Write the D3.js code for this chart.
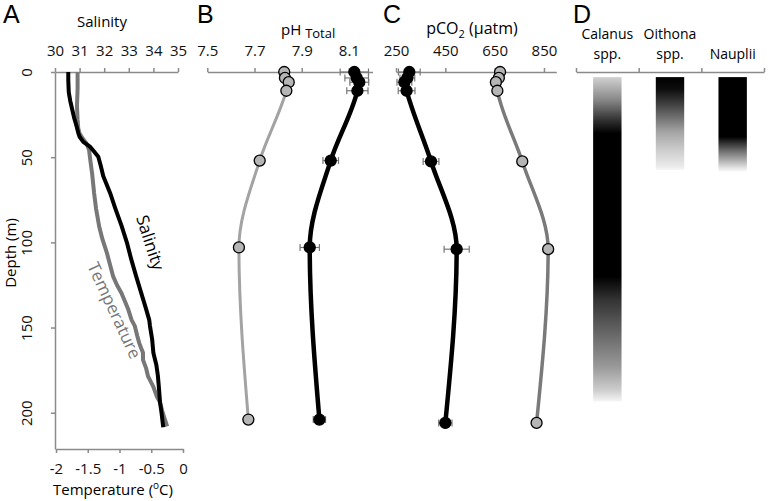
<!DOCTYPE html>
<html><head><meta charset="utf-8">
<script src="https://cdn.jsdelivr.net/npm/d3@7"></script>
<style>
html,body{margin:0;padding:0;background:#fff;}
svg{display:block;font-family:"Open Sans",sans-serif;}
</style></head>
<body><svg id="c" width="768" height="501"></svg>
<script>
// ---------- DATA ----------
// Panel A: CTD profiles
const salinityProfile = [[0,30.54],[5,30.54],[12,30.56],[17,30.62],[22,30.70],[27,30.78],[32,30.88],[36,30.95],[38,31.0],[41,31.15],[43.8,31.42],[46.5,31.58],[49.7,31.76],[55,31.86],[61,31.96],[71,32.24],[80,32.45],[90,32.7],[100,32.92],[110,33.1],[120,33.3],[129.5,33.5],[138,33.68],[145.5,33.83],[149,33.86],[157,33.95],[165,34.0],[172,34.12],[178,34.18],[184.5,34.22],[194,34.27],[200,34.33],[208.5,34.40]];
const temperatureProfile = [[0,-1.66],[10,-1.66],[20,-1.67],[28,-1.66],[33,-1.65],[36,-1.63],[39,-1.58],[42,-1.52],[45.7,-1.48],[51.6,-1.46],[60,-1.43],[71,-1.40],[80,-1.37],[90.7,-1.32],[98,-1.27],[106,-1.20],[113,-1.15],[120,-1.10],[125,-1.04],[129.7,-0.97],[135,-0.91],[139.6,-0.86],[145.5,-0.81],[149,-0.76],[155,-0.72],[159,-0.69],[162,-0.66],[164.8,-0.63],[169,-0.63],[174,-0.58],[178.7,-0.55],[184.5,-0.47],[190.6,-0.41],[194,-0.36],[200,-0.32],[208,-0.25]];
const salinityTicks = [30,31,32,33,34,35];
const temperatureTicks = [-2,-1.5,-1,-0.5,0];
const depthTicks = [0,50,100,150,200];

// Panel B: pH (total scale)
const depthsB = [0,3.5,6,11,52,103,204];
const pHGrey = [7.826,7.829,7.845,7.835,7.722,7.634,7.674];
const pHBlack = [8.123,8.133,8.144,8.136,8.023,7.934,7.975];
const pHBlackErr = [0.06,0.05,0.04,0.045,0.033,0.041,0.026];
const pHTicks = [7.5,7.7,7.9,8.1];

// Panel C: pCO2 (uatm)
const depthsC = [0,3.5,6,11,52.5,104,206];
const pCO2Black = [304,296,284,293,392,496,450];
const pCO2BlackErr = [44,30,30,34,32,51,27];
const pCO2Grey = [672,667,655,661,762,867,820];
const pCO2Ticks = [250,450,650,850];

// Panel D: relative abundance (0 none .. 1 max) by depth
const taxa = ["Calanus spp.","Oithona spp.","Nauplii"];
const calanusAbund = [[3,0.18],[16.5,0.47],[28,0.8],[36,1],[120,1],[133.7,0.8],[153,0.6],[173,0.4],[186.5,0.2],[193.4,0.04]];
const oithonaAbund = [[3,1],[10,0.95],[16.7,0.8],[28,0.53],[35.6,0.35],[45.7,0.2],[55.5,0.08],[57.5,0.03]];
const naupliiAbund = [[3,1],[38,1],[45.7,0.6],[51.6,0.33],[56,0.12],[58.5,0.02]];

// ---------- DRAW ----------
const svg = d3.select("#c");
const AX = "#8a8a8a";
const y = d3.scaleLinear().domain([0,221.3]).range([72,449]);

function styleAxis(g){
  g.select(".domain").attr("stroke",AX).attr("stroke-width",1.5);
  g.selectAll(".tick line").attr("stroke",AX).attr("stroke-width",1.5);
  g.selectAll(".tick text").attr("font-size",15).attr("fill","#111").attr("font-family","Open Sans");
}
function panelLetter(t,x){
  svg.append("text").attr("x",x).attr("y",23).attr("font-family","Liberation Sans, Arial").attr("font-size",25).text(t);
}

// ---- Panel A ----
panelLetter("A",3);
const xSal = d3.scaleLinear().domain([30,35]).range([55,178]);
const xTemp = d3.scaleLinear().domain([-2,0]).range([56,183]);
svg.append("g").attr("transform","translate(0,72)")
  .call(d3.axisTop(xSal).tickValues(salinityTicks).tickSize(4).tickSizeOuter(0).tickPadding(12).tickFormat(d3.format("d"))).call(styleAxis);
svg.append("g").attr("transform","translate(0,449)")
  .call(d3.axisBottom(xTemp).tickValues(temperatureTicks).tickSize(4).tickSizeOuter(0).tickPadding(10).tickFormat(d=>String(d))).call(styleAxis);
const gl = svg.append("g").attr("transform","translate(55,0)")
  .call(d3.axisLeft(y).tickValues(depthTicks).tickSize(4).tickSizeOuter(0)).call(styleAxis);
gl.selectAll(".tick text").attr("x",null).attr("dy",null).attr("text-anchor","middle")
  .attr("transform","translate(-23,0) rotate(-90)");
svg.append("text").attr("transform","translate(15.5,253) rotate(-90)").attr("text-anchor","middle").attr("font-size",15).text("Depth (m)");
svg.append("text").attr("x",102).attr("y",27).attr("text-anchor","middle").attr("font-size",15).text("Salinity");
const tt = svg.append("text").attr("x",113).attr("y",495).attr("text-anchor","middle").attr("font-size",15);
tt.append("tspan").text("Temperature (");
tt.append("tspan").attr("font-size",10).attr("dy",-6).text("o");
tt.append("tspan").attr("dy",6).text("C)");

svg.append("path").datum(temperatureProfile).attr("fill","none").attr("stroke","#777").attr("stroke-width",4).attr("stroke-linejoin","round")
  .attr("d",d3.line().x(d=>xTemp(d[1])).y(d=>y(d[0])));
svg.append("path").datum(salinityProfile).attr("fill","none").attr("stroke","#000").attr("stroke-width",4).attr("stroke-linejoin","round")
  .attr("d",d3.line().x(d=>xSal(d[1])).y(d=>y(d[0])));
svg.append("text").attr("transform","translate(149,243) rotate(72)").attr("text-anchor","middle").attr("dominant-baseline","middle").attr("font-size",17).text("Salinity");
svg.append("text").attr("transform","translate(113,311) rotate(65)").attr("text-anchor","middle").attr("dominant-baseline","middle").attr("font-size",17).attr("fill","#777").text("Temperature");

// ---- generic profile panel ----
function profilePanel(xs, depths, series){
  series.forEach(s=>{
    const pts = depths.map((d,i)=>({d, v:s.values[i], e: s.err ? s.err[i] : 0}));
    svg.append("path").datum(pts).attr("fill","none").attr("stroke",s.line).attr("stroke-width",s.lw)
      .attr("d",d3.line().x(p=>xs(p.v)).y(p=>y(p.d)).curve(d3.curveMonotoneY));
    s.pts = pts;
  });
  series.forEach(s=>{
    if(!s.err) return;
    const g = svg.append("g").attr("stroke","#777").attr("stroke-width",1.2);
    s.pts.forEach(p=>{
      const x0 = xs(p.v-p.e), x1 = xs(p.v+p.e), yy = y(p.d);
      g.append("line").attr("x1",x0).attr("x2",x1).attr("y1",yy).attr("y2",yy);
      g.append("line").attr("x1",x0).attr("x2",x0).attr("y1",yy-3.5).attr("y2",yy+3.5);
      g.append("line").attr("x1",x1).attr("x2",x1).attr("y1",yy-3.5).attr("y2",yy+3.5);
    });
  });
  series.forEach(s=>{
    svg.append("g").selectAll("circle").data(s.pts).join("circle")
      .attr("cx",p=>xs(p.v)).attr("cy",p=>y(p.d)).attr("r",5.5)
      .attr("fill",s.fill).attr("stroke","#000").attr("stroke-width",1.3);
  });
}

// ---- Panel B ----
panelLetter("B",197);
const xPH = d3.scaleLinear().domain([7.5,8.2]).range([207.3,372.5]);
svg.append("g").attr("transform","translate(0,72)")
  .call(d3.axisTop(xPH).tickValues(pHTicks).tickSize(4).tickSizeOuter(0).tickPadding(12).tickFormat(d3.format(".1f"))).call(styleAxis);
const pt = svg.append("text").attr("x",281).attr("y",35).attr("font-size",15);
pt.append("tspan").text("pH ");
pt.append("tspan").attr("font-size",13).attr("dy",3).text("Total");
profilePanel(xPH, depthsB, [
  {values:pHGrey, line:"#a3a3a3", lw:3, fill:"#b5b5b5"},
  {values:pHBlack, err:pHBlackErr, line:"#000", lw:4.5, fill:"#000"}
]);

// ---- Panel C ----
panelLetter("C",383);
const xCO2 = d3.scaleLinear().domain([250,900]).range([396,556.3]);
svg.append("g").attr("transform","translate(0,72)")
  .call(d3.axisTop(xCO2).tickValues(pCO2Ticks).tickSize(4).tickSizeOuter(0).tickPadding(12)).call(styleAxis);
const ct = svg.append("text").attr("x",472).attr("y",34).attr("text-anchor","middle").attr("font-size",16);
ct.append("tspan").text("pCO");
ct.append("tspan").attr("font-size",11).attr("dy",4).text("2");
ct.append("tspan").attr("dy",-4).text(" (\u03BCatm)");
profilePanel(xCO2, depthsC, [
  {values:pCO2Grey, line:"#7a7a7a", lw:3.5, fill:"#b5b5b5"},
  {values:pCO2Black, err:pCO2BlackErr, line:"#000", lw:4.5, fill:"#000"}
]);

// ---- Panel D ----
panelLetter("D",573);
const xBand = d3.scaleBand().domain(taxa).range([576,764]).paddingInner(0).paddingOuter(0);
const xEdge = d3.scaleLinear().domain([0,3]).range([576,764]);
svg.append("g").attr("transform","translate(0,72)")
  .call(d3.axisTop(xEdge).tickValues([0,1,2,3]).tickSize(4).tickSizeOuter(0).tickFormat("")).call(styleAxis);
taxa.forEach(t=>{
  const parts = t.split(" ");
  const cx = xBand(t)+xBand.bandwidth()/2;
  if(parts.length===2){
    svg.append("text").attr("x",cx).attr("y",39).attr("text-anchor","middle").attr("font-size",14).text(parts[0]);
    svg.append("text").attr("x",cx).attr("y",59).attr("text-anchor","middle").attr("font-size",14).text(parts[1]);
  } else {
    svg.append("text").attr("x",cx).attr("y",59).attr("text-anchor","middle").attr("font-size",14).text(t);
  }
});
const grey = d3.scaleLinear().domain([0,1]).range(["#ffffff","#000000"]);
const defs = svg.append("defs");
const abund = [calanusAbund, oithonaAbund, naupliiAbund];
const barW = 28.4;
taxa.forEach((t,i)=>{
  const a = abund[i];
  const d0 = a[0][0], d1 = a[a.length-1][0];
  const id = "grad"+i;
  const lg = defs.append("linearGradient").attr("id",id).attr("gradientUnits","userSpaceOnUse")
    .attr("x1",0).attr("x2",0).attr("y1",y(d0)).attr("y2",y(d1));
  a.forEach(s=>lg.append("stop").attr("offset",(s[0]-d0)/(d1-d0)).attr("stop-color",grey(s[1])));
  const cx = xBand(t)+xBand.bandwidth()/2;
  svg.append("rect").attr("x",cx-barW/2).attr("width",barW).attr("y",y(d0)).attr("height",y(d1)-y(d0)).attr("fill",`url(#${id})`);
});
</script></body></html>
